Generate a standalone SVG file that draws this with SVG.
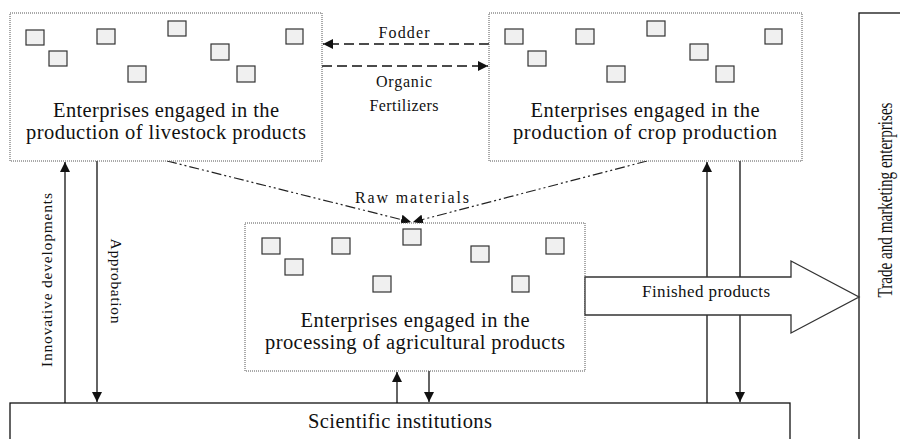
<svg xmlns="http://www.w3.org/2000/svg" width="900" height="439" viewBox="0 0 900 439" font-family="'Liberation Serif', 'DejaVu Serif', serif">
<style>
text{fill:#111}
.big{font-size:20.5px}
.mid{font-size:17px}
.sm{font-size:16px}
.box{fill:#fff;stroke:#555;stroke-width:1;stroke-dasharray:1 1}
.sq{fill:#f0f0f0;stroke:#333;stroke-width:1.2}
.ln{fill:none;stroke:#111;stroke-width:1.3}
.dash{fill:none;stroke:#111;stroke-width:1.3;stroke-dasharray:10 5}
.dd{fill:none;stroke:#222;stroke-width:1.2;stroke-dasharray:10 3 2 3 2 3}
</style>
<defs>
<marker id="ah" viewBox="0 0 10 10" refX="10" refY="5" markerWidth="10" markerHeight="10" markerUnits="userSpaceOnUse" orient="auto">
<path d="M0,0 L10,5 L0,10 z" fill="#111"/>
</marker>
</defs>

<g id="trade">
<rect x="859" y="13" width="60" height="440" fill="#fff" stroke="#111" stroke-width="1.3"/>
<text transform="translate(892,200) rotate(-90)" text-anchor="middle" font-family="'Liberation Serif', 'DejaVu Serif', serif" style="font-size:21px" textLength="195" lengthAdjust="spacingAndGlyphs">Trade and marketing enterprises</text>
</g>

<g id="science">
<rect x="10" y="403" width="780" height="60" fill="#fff" stroke="#111" stroke-width="1.3"/>
<text x="400" y="428" text-anchor="middle" class="big" font-family="'Liberation Serif', 'DejaVu Serif', serif" textLength="184">Scientific institutions</text>
</g>

<g id="connectors">
<line class="dash" x1="489" y1="44" x2="323" y2="44" marker-end="url(#ah)"/>
<line class="dash" x1="322" y1="66" x2="488" y2="66" marker-end="url(#ah)"/>
<line class="dd" x1="167" y1="161" x2="411" y2="222" marker-end="url(#ah)"/>
<line class="dd" x1="647" y1="161" x2="413" y2="222" marker-end="url(#ah)"/>
<line class="ln" x1="65" y1="403" x2="65" y2="162" marker-end="url(#ah)"/>
<line class="ln" x1="97" y1="161" x2="97" y2="402" marker-end="url(#ah)"/>
<line class="ln" x1="707" y1="403" x2="707" y2="162" marker-end="url(#ah)"/>
<line class="ln" x1="740" y1="161" x2="740" y2="402" marker-end="url(#ah)"/>
<line class="ln" x1="397" y1="403" x2="397" y2="372" marker-end="url(#ah)"/>
<line class="ln" x1="429" y1="371" x2="429" y2="402" marker-end="url(#ah)"/>
<text x="404" y="38" text-anchor="middle" class="sm" textLength="51">Fodder</text>
<text x="404" y="87" text-anchor="middle" class="sm" textLength="56">Organic</text>
<text x="404" y="111" text-anchor="middle" class="sm" textLength="69">Fertilizers</text>
<text x="412" y="203" text-anchor="middle" class="sm" textLength="114">Raw materials</text>
<text transform="translate(52,280) rotate(-90)" text-anchor="middle" style="font-size:15.5px" textLength="174">Innovative developments</text>
<text transform="translate(111,281) rotate(90)" text-anchor="middle" style="font-size:15.5px" textLength="85">Approbation</text>
</g>

<g id="livestock">
<rect class="box" x="10" y="13" width="312" height="148"/>
<rect class="sq" x="26" y="30" width="18" height="15"/>
<rect class="sq" x="49" y="51" width="18" height="15"/>
<rect class="sq" x="97" y="29" width="18" height="15"/>
<rect class="sq" x="128" y="66" width="18" height="16"/>
<rect class="sq" x="168" y="21" width="18" height="15"/>
<rect class="sq" x="211" y="44" width="18" height="16"/>
<rect class="sq" x="237" y="66" width="18" height="16"/>
<rect class="sq" x="286" y="29" width="17" height="15"/>
<text x="166" y="117" text-anchor="middle" class="big" textLength="226">Enterprises engaged in the</text>
<text x="166" y="139" text-anchor="middle" class="big" textLength="280">production of livestock products</text>
</g>

<g id="crop">
<rect class="box" x="489" y="13" width="313" height="148"/>
<rect class="sq" x="505" y="29" width="18" height="15"/>
<rect class="sq" x="528" y="51" width="18" height="15"/>
<rect class="sq" x="576" y="29" width="18" height="15"/>
<rect class="sq" x="607" y="66" width="18" height="16"/>
<rect class="sq" x="647" y="21" width="18" height="15"/>
<rect class="sq" x="690" y="44" width="18" height="16"/>
<rect class="sq" x="716" y="66" width="18" height="16"/>
<rect class="sq" x="765" y="29" width="17" height="15"/>
<text x="645" y="117" text-anchor="middle" class="big" textLength="229">Enterprises engaged in the</text>
<text x="645" y="139" text-anchor="middle" class="big" textLength="264">production of crop production</text>
</g>

<g id="processing">
<rect class="box" x="245" y="223" width="340" height="148"/>
<rect class="sq" x="262" y="238" width="18" height="16"/>
<rect class="sq" x="285" y="259" width="18" height="16"/>
<rect class="sq" x="332" y="238" width="18" height="16"/>
<rect class="sq" x="373" y="276" width="18" height="16"/>
<rect class="sq" x="403" y="229" width="18" height="16"/>
<rect class="sq" x="471" y="246" width="18" height="16"/>
<rect class="sq" x="546" y="238" width="18" height="16"/>
<rect class="sq" x="512" y="276" width="17" height="16"/>
<text x="415" y="327" text-anchor="middle" class="big" textLength="229">Enterprises engaged in the</text>
<text x="415" y="349" text-anchor="middle" class="big" textLength="300">processing of agricultural products</text>
</g>

<g id="finished">
<polygon points="585,277 791,277 791,261 859,297 791,333 791,315 585,315" fill="#fff" stroke="#333" stroke-width="1.3"/>
<text x="706" y="297" text-anchor="middle" class="mid" textLength="128">Finished products</text>
</g>
</svg>
